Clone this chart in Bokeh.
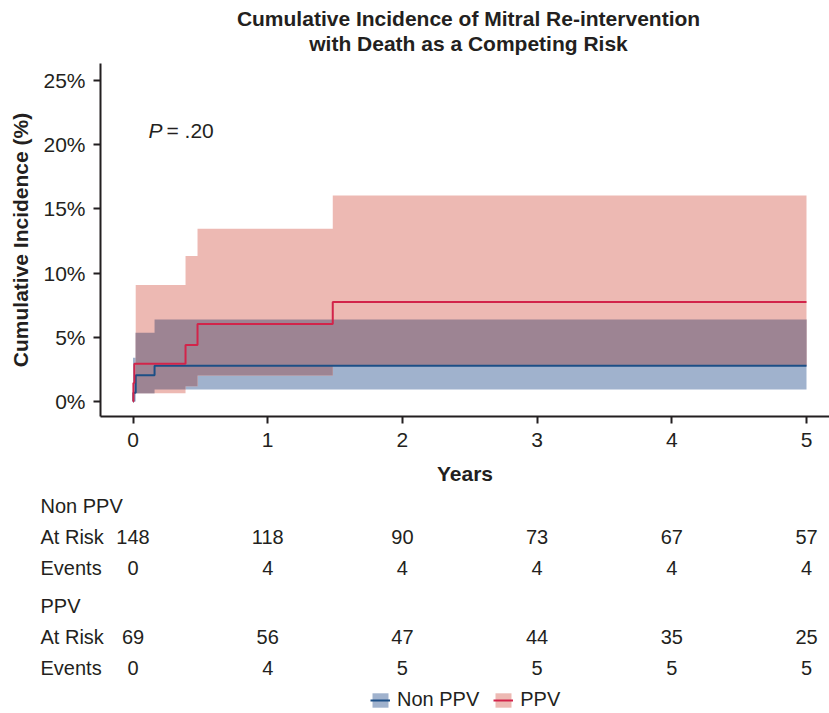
import numpy as np
from bokeh.plotting import figure
from bokeh.models import (Range1d, FixedTicker, PrintfTickFormatter, Legend, LegendItem)
from bokeh.core.properties import value
from bokeh.embed import file_html
from bokeh.resources import INLINE

# ---------------- data ----------------
year_ticks = [0, 1, 2, 3, 4, 5]
pct_ticks = [0, 5, 10, 15, 20, 25]
t_end = 5.0

nonppv_time = [0.0, 0.003, 0.02, 0.16]
nonppv_est = [0.0, 0.68, 2.05, 2.78]
nonppv_ci_time = [0.0, 0.02, 0.16]
nonppv_lower = [0.0, 0.65, 0.93]
nonppv_upper = [3.40, 5.35, 6.39]

ppv_time = [0.0, 0.003, 0.01, 0.39, 0.479, 1.483]
ppv_est = [0.0, 1.45, 2.94, 4.40, 6.03, 7.74]
ppv_ci_time = [0.02, 0.39, 0.479, 1.483]
ppv_lower = [0.65, 1.19, 2.02, 2.78]
ppv_upper = [9.08, 11.34, 13.45, 16.04]

nonppv_at_risk = [148, 118, 90, 73, 67, 57]
nonppv_events = [0, 4, 4, 4, 4, 4]
ppv_at_risk = [69, 56, 47, 44, 35, 25]
ppv_events = [0, 4, 5, 5, 5, 5]
groups = ["Non PPV", "PPV"]
p_value = ".20"
title_lines = ["Cumulative Incidence of Mitral Re-intervention", "with Death as a Competing Risk"]

# ---------------- style / layout (pixels) ----------------
FONT = "Liberation Sans"
TXT = "#231F20"
BLUE_LINE = "#1C4F86"
RED_LINE = "#D2244A"
BLUE_BAND = "#A0B2CD"
RED_BAND = "#EDB9B3"
OVERLAP = "#9D8493"

W, H = 829, 713
PX0 = 132.5          # canvas x of year 0
PX_YEAR = 134.7      # px per year
Y0 = 401.0           # canvas y of 0 %
PX_PCT = 12.84       # px per percent
AX_L, AX_T, AX_B = 100, 63, 416   # axis box (left, top, bottom)


def dx(px):
    return (px - PX0) / PX_YEAR


def dy(py):
    return (Y0 - py) / PX_PCT


def step_xy(t, v, end):
    t = np.asarray(t, float)
    v = np.asarray(v, float)
    x = np.repeat(np.append(t, end), 2)[1:-1]
    y = np.repeat(v, 2)
    return x, y


def eval_step(t, v, grid):
    idx = np.searchsorted(np.asarray(t), grid, side="right") - 1
    return np.asarray(v, float)[idx]


p = figure(output_backend="svg", toolbar_location=None,
           width=W, height=H, frame_width=W, frame_height=H,
           min_border_left=0, min_border_right=0, min_border_top=0, min_border_bottom=0,
           x_range=Range1d(dx(0), dx(W)), y_range=Range1d(dy(H), dy(0)), title=None)
p.outline_line_color = None
p.grid.visible = False

# bands
bx, by1 = step_xy(nonppv_ci_time, nonppv_lower, t_end)
_, by2 = step_xy(nonppv_ci_time, nonppv_upper, t_end)
blue_band = p.varea(x=bx, y1=by1, y2=by2, fill_color=BLUE_BAND)
rx, ry1 = step_xy(ppv_ci_time, ppv_lower, t_end)
_, ry2 = step_xy(ppv_ci_time, ppv_upper, t_end)
red_band = p.varea(x=rx, y1=ry1, y2=ry2, fill_color=RED_BAND)

grid = np.union1d(nonppv_ci_time, ppv_ci_time)
grid = grid[grid >= max(nonppv_ci_time[0], ppv_ci_time[0])]
lo = np.maximum(eval_step(nonppv_ci_time, nonppv_lower, grid), eval_step(ppv_ci_time, ppv_lower, grid))
hi = np.minimum(eval_step(nonppv_ci_time, nonppv_upper, grid), eval_step(ppv_ci_time, ppv_upper, grid))
hi = np.maximum(hi, lo)
ox, oy1 = step_xy(grid, lo, t_end)
_, oy2 = step_xy(grid, hi, t_end)
p.varea(x=ox, y1=oy1, y2=oy2, fill_color=OVERLAP)

# estimate lines
nx, ny = step_xy(nonppv_time, nonppv_est, t_end)
blue_line = p.line(nx, ny, line_color=BLUE_LINE, line_width=2)
px, py = step_xy(ppv_time, ppv_est, t_end)
red_line = p.line(px, py, line_color=RED_LINE, line_width=2)

# title
p.text(x=[dx(468)] * 2, y=[dy(18), dy(43)], text=title_lines, text_font=value(FONT),
       text_font_style="bold", text_font_size="21px", text_align="center",
       text_baseline="middle", text_color=TXT)

# P value
p.text(x=[dx(148)], y=[dy(130)], text=["P"], text_font=value(FONT),
       text_font_style="italic", text_font_size="21px", text_baseline="middle",
       text_color=TXT)
p.text(x=[dx(166)], y=[dy(130)], text=["= " + p_value], text_font=value(FONT),
       text_font_size="21px", text_baseline="middle", text_color=TXT)

# axes, drawn at fixed positions inside the full-canvas frame
for ax in (p.xaxis[0], p.yaxis[0]):
    ax.axis_line_width = 2
    ax.axis_line_color = TXT
    ax.major_tick_line_width = 2
    ax.major_tick_line_color = TXT
    ax.major_tick_out = 7
    ax.major_tick_in = 0
    ax.minor_tick_line_color = None
    ax.major_label_text_font = FONT
    ax.major_label_text_font_size = "21px"
    ax.major_label_text_color = TXT
    ax.axis_label_text_font = FONT
    ax.axis_label_text_font_size = "21px"
    ax.axis_label_text_font_style = "bold"
    ax.axis_label_text_color = TXT
p.xaxis.ticker = FixedTicker(ticks=year_ticks)
p.yaxis.ticker = FixedTicker(ticks=pct_ticks)
p.yaxis.formatter = PrintfTickFormatter(format="%d%%")
p.xaxis.fixed_location = dy(AX_B)
p.yaxis.fixed_location = dx(AX_L)
p.xaxis.bounds = (dx(AX_L), dx(W))
p.yaxis.bounds = (dy(AX_B), dy(AX_T))
p.xaxis.axis_label = "Years"
p.yaxis.axis_label = "Cumulative Incidence (%)"
p.xaxis.major_label_standoff = 9
p.xaxis.axis_label_standoff = 12
p.yaxis.major_label_standoff = 8
p.yaxis.axis_label_standoff = 8

# ---------------- risk table ----------------
LABEL_PX = 40
rows_px = {"head": [505, 605], "risk": [536, 636], "events": [567, 667]}
tables = [(nonppv_at_risk, nonppv_events), (ppv_at_risk, ppv_events)]
tkw = dict(text_font=value(FONT), text_font_size="20px", text_baseline="middle", text_color=TXT)
for gi, g in enumerate(groups):
    risk, ev = tables[gi]
    p.text(x=[dx(LABEL_PX)] * 3,
           y=[dy(rows_px["head"][gi]), dy(rows_px["risk"][gi]), dy(rows_px["events"][gi])],
           text=[g, "At Risk", "Events"], text_align="left", **tkw)
    p.text(x=year_ticks, y=[dy(rows_px["risk"][gi])] * len(year_ticks),
           text=[str(v) for v in risk], text_align="center", **tkw)
    p.text(x=year_ticks, y=[dy(rows_px["events"][gi])] * len(year_ticks),
           text=[str(v) for v in ev], text_align="center", **tkw)

legend = Legend(items=[LegendItem(label=groups[0], renderers=[blue_band, blue_line]),
                       LegendItem(label=groups[1], renderers=[red_band, red_line])],
                orientation="horizontal", location=(370, H - 711),
                border_line_color=None, background_fill_color=None,
                padding=0, margin=0, spacing=14, label_standoff=7,
                glyph_width=20, glyph_height=18,
                label_text_font=FONT, label_text_font_size="20px", label_text_color=TXT,
                label_height=18)
p.add_layout(legend, "center")

open("out.html", "w").write(file_html(p, INLINE))
